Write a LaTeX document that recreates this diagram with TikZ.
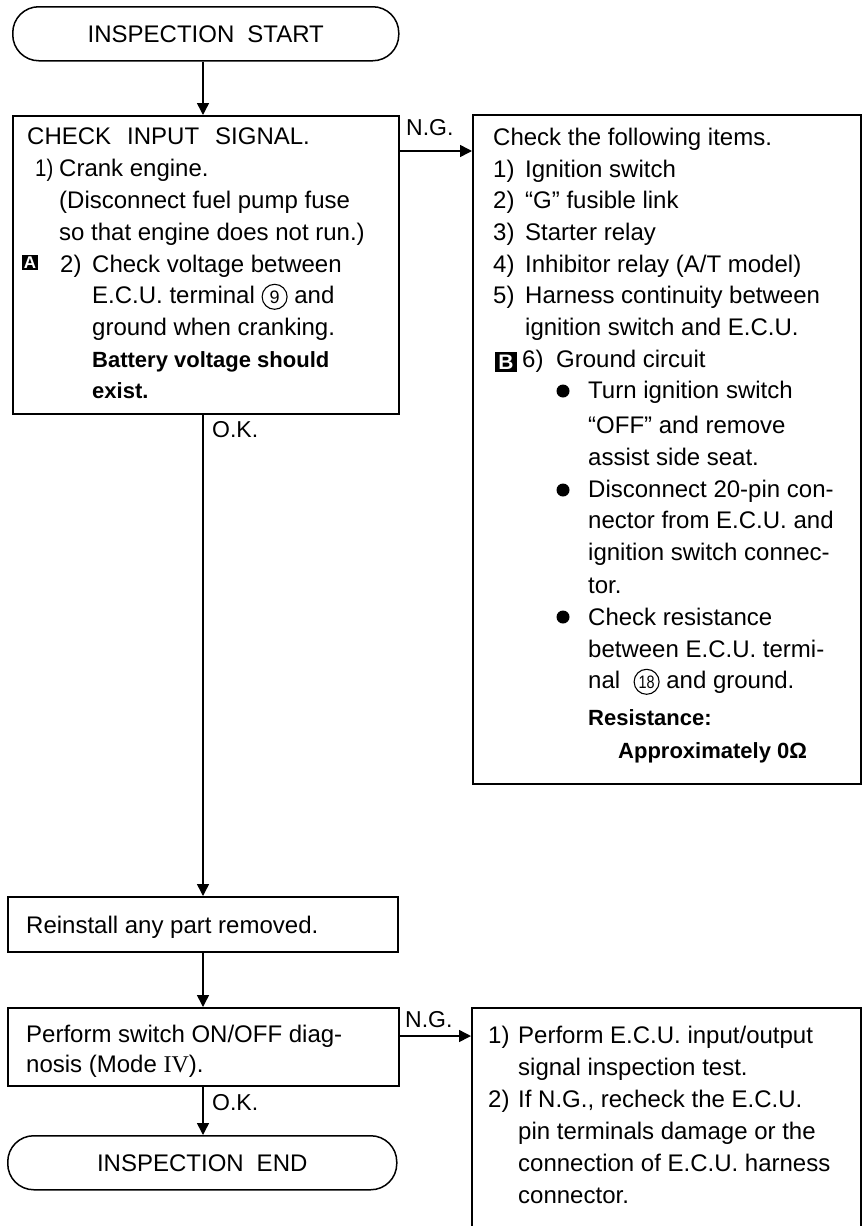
\documentclass[tikz,border=0pt]{standalone}
\usepackage{fontspec}
\setmainfont{Liberation Sans}
\newfontfamily\romanfont{Liberation Serif}
\usetikzlibrary{arrows.meta}
\tikzset{
  box/.style={draw,line width=1.5pt,anchor=north west,inner sep=0pt,rectangle},
  term/.style={box,rounded corners=26pt,font=\fontsize{24}{28}\selectfont},
  txt/.style={anchor=base west,inner sep=0pt,font=\fontsize{24}{32}\selectfont},
  lbl/.style={anchor=base west,inner sep=0pt,font=\fontsize{23}{28}\selectfont},
  keybox/.style={fill=black,text=white,inner sep=0pt},
  arr/.style={line width=1.5pt,-{Triangle[length=12pt,width=12pt]}}
}
\newcommand\tl[4]{\node[txt] (#1) at (#2,#3) {#4};}
\newcommand\cnum[2]{\tikz[baseline=(#1.base)]\node[draw,circle,line width=1.1pt,inner sep=0pt,minimum size=25pt,font=\fontsize{18}{18}\selectfont] (#1) {#2};}
\newcommand\boldtxt[1]{{\fontsize{22}{32}\selectfont\bfseries #1}}
\newcommand\lab[2]{\makebox[#1][l]{\scalebox{0.85}[1]{#2}}}
\begin{document}
\begin{tikzpicture}[x=1pt,y=-1pt]
\useasboundingbox (0,0) rectangle (862,1226);
% boxes
\node[term,minimum width=386pt,minimum height=54pt] (start) at (12,6) {INSPECTION\hspace{13pt}START};
\node[box,minimum width=386pt,minimum height=298pt] (box1) at (12,115) {};
\node[box,minimum width=388pt,minimum height=669pt] (box2) at (472,114) {};
\node[box,minimum width=390pt,minimum height=55pt] (reinst) at (7,896) {};
\node[box,minimum width=391pt,minimum height=78pt] (perf) at (7,1007) {};
\node[box,minimum width=389pt,minimum height=232pt] (box4) at (471,1007) {};
\node[term,minimum width=389pt,minimum height=54pt] (finish) at (7,1135) {INSPECTION\hspace{13pt}END};
% coordinates for connectors
\coordinate (col) at (203,0);
\coordinate (ngA) at (0,151);
\coordinate (ngB) at (0,1036);
% connectors
\draw[arr] (start.south -| col) -- (box1.north -| col);
\draw[arr] (box1.east |- ngA) -- (box2.west |- ngA);
\draw[arr] (box1.south -| col) -- (reinst.north -| col);
\draw[arr] (reinst.south -| col) -- (perf.north -| col);
\draw[arr] (perf.east |- ngB) -- (box4.west |- ngB);
\draw[arr] (perf.south -| col) -- (finish.north -| col);
% connector labels
\node[lbl] (ngla) at (406,135) {N.G.};
\node[lbl] (okla) at (212,437) {O.K.};
\node[lbl] (nglb) at (405,1027) {N.G.};
\node[lbl] (oklb) at (212,1110) {O.K.};
% box1 text
\tl{a1}{27}{144}{CHECK\hspace{16pt}INPUT\hspace{16pt}SIGNAL.}
\tl{a2}{35}{176}{\lab{24pt}{1)}Crank engine.}
\tl{a3}{59}{208}{(Disconnect fuel pump fuse}
\tl{a4}{59}{240}{so that engine does not run.)}
\tl{a5}{60}{272}{\makebox[32pt][l]{2)}Check voltage between}
\tl{a6}{92}{303}{E.C.U. terminal \cnum{cnine}{9} and}
\tl{a7}{92}{335}{ground when cranking.}
\tl{a8}{92}{367}{\boldtxt{Battery voltage should}}
\tl{a9}{92}{398}{\boldtxt{exist.}}
\node[keybox,minimum width=16pt,minimum height=15pt,font=\fontsize{17}{17}\selectfont\bfseries] (keyA) at (30,262.5) {A};
% box2 text
\tl{c1}{493}{145}{Check the following items.}
\tl{c2}{493}{177}{\makebox[32pt][l]{1)}Ignition switch}
\tl{c3}{493}{208}{\makebox[32pt][l]{2)}“G” fusible link}
\tl{c4}{493}{240}{\makebox[32pt][l]{3)}Starter relay}
\tl{c5}{493}{272}{\makebox[32pt][l]{4)}Inhibitor relay (A/T model)}
\tl{c6}{493}{303}{\makebox[32pt][l]{5)}Harness continuity between}
\tl{c7}{525}{335}{ignition switch and E.C.U.}
\node[keybox,minimum width=22pt,minimum height=20pt,font=\fontsize{21}{21}\selectfont\bfseries] (keyB) at (506,362) {B};
\tl{c8}{522}{367}{\makebox[34pt][l]{6)}Ground circuit}
\fill (563,391) circle[radius=6.5];
\tl{c9}{588}{398}{Turn ignition switch}
\tl{c10}{588}{433}{“OFF” and remove}
\tl{c11}{588}{465}{assist side seat.}
\fill (563,490) circle[radius=6.5];
\tl{c12}{588}{497}{Disconnect 20-pin con-}
\tl{c13}{588}{528}{nector from E.C.U. and}
\tl{c14}{588}{560}{ignition switch connec-}
\tl{c15}{588}{593}{tor.}
\fill (563,617) circle[radius=6.5];
\tl{c16}{588}{625}{Check resistance}
\tl{c17}{588}{657}{between E.C.U. termi-}
\tl{c18}{588}{688}{nal \ \cnum{ceighteen}{\scalebox{0.8}[1]{18}} and ground.}
\tl{c19}{588}{725}{\boldtxt{Resistance:}}
\tl{c20}{618}{758}{\boldtxt{Approximately 0Ω}}
% lower left text
\tl{r1}{26}{933}{Reinstall any part removed.}
\tl{p1}{26}{1042}{Perform switch ON/OFF diag-}
\tl{p2}{26}{1072}{nosis (Mode {\romanfont IV}).}
% box4 text
\tl{d1}{488}{1043}{\makebox[30pt][l]{1)}Perform E.C.U. input/output}
\tl{d2}{518}{1075}{signal inspection test.}
\tl{d3}{488}{1107}{\makebox[30pt][l]{2)}If N.G., recheck the E.C.U.}
\tl{d4}{518}{1139}{pin terminals damage or the}
\tl{d5}{518}{1171}{connection of E.C.U. harness}
\tl{d6}{518}{1203}{connector.}
\end{tikzpicture}
\end{document}
